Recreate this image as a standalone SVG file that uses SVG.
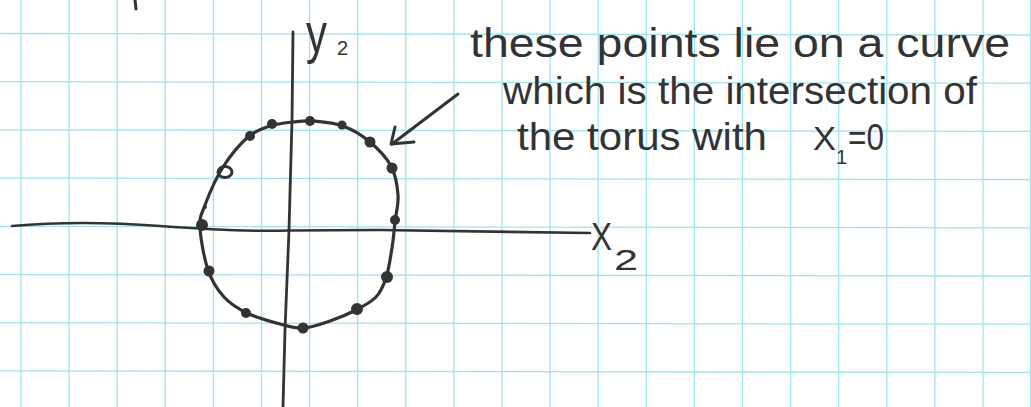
<svg xmlns="http://www.w3.org/2000/svg" width="1031" height="407" viewBox="0 0 1031 407">
<defs>
<style>
.grid line{stroke:#9fe6ec;stroke-width:1.3}
.ink{fill:none;stroke:#333;stroke-linecap:round;stroke-linejoin:round}
.txt{font-family:"Liberation Sans","DejaVu Sans",sans-serif;fill:#333}
.dot{fill:#333}
</style>
</defs>
<rect width="1031" height="407" fill="#fff"/>
<g id="grid" class="grid">
<line x1="21" y1="0" x2="21" y2="407"/><line x1="69.1" y1="0" x2="69.1" y2="407"/><line x1="117.2" y1="0" x2="117.2" y2="407"/><line x1="165.3" y1="0" x2="165.3" y2="407"/><line x1="213.4" y1="0" x2="213.4" y2="407"/><line x1="261.5" y1="0" x2="261.5" y2="407"/><line x1="309.6" y1="0" x2="309.6" y2="407"/><line x1="357.7" y1="0" x2="357.7" y2="407"/><line x1="405.8" y1="0" x2="405.8" y2="407"/><line x1="453.9" y1="0" x2="453.9" y2="407"/><line x1="502" y1="0" x2="502" y2="407"/><line x1="550.1" y1="0" x2="550.1" y2="407"/><line x1="598.2" y1="0" x2="598.2" y2="407"/><line x1="646.3" y1="0" x2="646.3" y2="407"/><line x1="694.4" y1="0" x2="694.4" y2="407"/><line x1="742.5" y1="0" x2="742.5" y2="407"/><line x1="790.6" y1="0" x2="790.6" y2="407"/><line x1="838.7" y1="0" x2="838.7" y2="407"/><line x1="886.8" y1="0" x2="886.8" y2="407"/><line x1="934.9" y1="0" x2="934.9" y2="407"/><line x1="983" y1="0" x2="983" y2="407"/><line x1="1030.5" y1="0" x2="1030.5" y2="407"/>
<line x1="0" y1="33.5" x2="1031" y2="35"/><line x1="0" y1="81.7" x2="1031" y2="83.2"/><line x1="0" y1="129.9" x2="1031" y2="131.4"/><line x1="0" y1="178.1" x2="1031" y2="179.6"/><line x1="0" y1="226.3" x2="1031" y2="227.8"/><line x1="0" y1="274.5" x2="1031" y2="276"/><line x1="0" y1="322.7" x2="1031" y2="324.2"/><line x1="0" y1="370.9" x2="1031" y2="372.4"/>
</g>
<g id="axes" class="ink">
<path d="M12,226 Q80,220 160,226 T290,230.5 L380,230 L590,233" stroke-width="2.6"/>
<path d="M293,32 L292,120 L289,230 L285,330 L283,407" stroke-width="2.8"/>
<path d="M135,0 L136,9" stroke-width="3"/>
</g>
<g id="curve">
<path class="ink" stroke-width="3.2" d="M293,122 C300.2,121.2 304.7,120.3 313,121 C321.3,121.7 333.5,122.5 343,126 C352.5,129.5 362,135.3 370,142 C378,148.7 386.3,157.2 391,166 C395.7,174.8 397.3,185.7 398,195 C398.7,204.3 396,213.2 395,222 C394,230.8 393.5,238.7 392,248 C390.5,257.3 388.7,269.8 386,278 C383.3,286.2 381,291.7 376,297 C371,302.3 363.7,306 356,310 C348.3,314 338.8,318 330,321 C321.2,324 311.3,327.5 303,328 C294.7,328.5 289.3,326.5 280,324 C270.7,321.5 256.3,317.5 247,313 C237.7,308.5 230.5,304.2 224,297 C217.5,289.8 212,281.7 208,270 C204,258.3 200.5,237.8 200,227 C199.5,216.2 201.2,215 205,205 C208.8,195 215.8,178.3 223,167 C230.2,155.7 240.2,143.8 248,137 C255.8,130.2 262.5,128.5 270,126 C277.5,123.5 285.8,122.8 293,122 Z"/>
<g id="points">
<circle class="dot" cx="272" cy="124" r="5"/>
<circle class="dot" cx="310" cy="121" r="5"/>
<circle class="dot" cx="342" cy="125" r="4.5"/>
<circle class="dot" cx="370" cy="142" r="5.5"/>
<circle class="dot" cx="392" cy="168" r="5.5"/>
<circle class="dot" cx="250" cy="136" r="5"/>
<circle class="dot" cx="202" cy="225" r="6"/>
<circle class="dot" cx="395" cy="220" r="5"/>
<circle class="dot" cx="209" cy="271" r="5.5"/>
<circle class="dot" cx="387" cy="277" r="6"/>
<circle class="dot" cx="246" cy="313" r="5"/>
<circle class="dot" cx="357" cy="309" r="6"/>
<circle class="dot" cx="303" cy="328" r="5.5"/>
<circle class="dot" cx="205" cy="207" r="2"/>
<ellipse class="ink" cx="225" cy="172" rx="7" ry="5.5" stroke-width="3"/>
</g>
</g>
<g id="arrow" class="ink" stroke-width="3">
<path d="M458,94 L392,144"/>
<path d="M395,127 L391,144 L414,142"/>
</g>
<g id="labels" class="txt">
<text x="306" y="52" font-size="56" textLength="21" lengthAdjust="spacingAndGlyphs">y</text>
<text x="337" y="55" font-size="20">2</text>
<text x="591" y="250" font-size="38" textLength="21" lengthAdjust="spacingAndGlyphs">X</text>
<text x="614" y="270" font-size="30" textLength="24" lengthAdjust="spacingAndGlyphs">2</text>
</g>
<g id="note" class="txt">
<text x="470" y="57" font-size="40" textLength="540" lengthAdjust="spacingAndGlyphs">these points lie on a curve</text>
<text x="503" y="104" font-size="38" textLength="474" lengthAdjust="spacingAndGlyphs">which is the intersection of</text>
<text x="517" y="150" font-size="38" textLength="250" lengthAdjust="spacingAndGlyphs">the torus with</text>
<text x="813" y="150" font-size="34" textLength="23" lengthAdjust="spacingAndGlyphs">X</text>
<text x="836" y="164" font-size="20">1</text>
<text x="848" y="150" font-size="36" textLength="36" lengthAdjust="spacingAndGlyphs">=0</text>
</g>
</svg>
